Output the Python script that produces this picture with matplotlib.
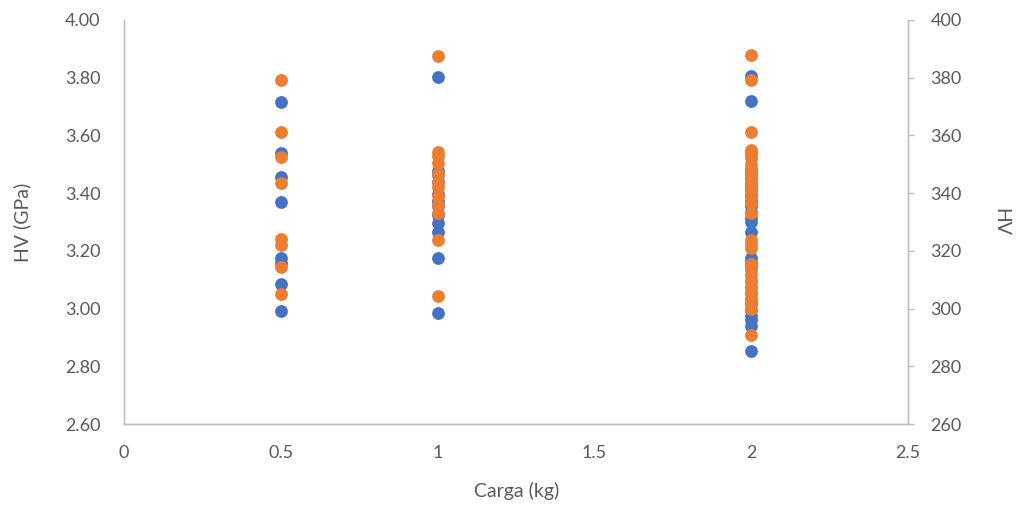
import numpy as np
import matplotlib.pyplot as plt

plt.rcParams['font.family'] = ['Lato', 'DejaVu Sans']

# loads (kg)
load_05 = 0.5
load_1 = 1.0
load_2 = 2.0

# hardness in GPa (left axis, blue)
gpa_05 = [3.717, 3.540, 3.457, 3.369, 3.177, 3.158, 3.084, 2.991]
gpa_1 = [3.801, 3.476, 3.462, 3.437, 3.398, 3.374, 3.354, 3.325, 3.295, 3.266, 3.175, 2.984]
gpa_2 = [3.804, 3.719, 3.543, 3.482, 3.467, 3.452, 3.432, 3.413, 3.393, 3.374, 3.354, 3.334,
         3.315, 3.300, 3.266, 3.175, 3.163, 3.148, 3.094, 3.074, 3.055, 3.035, 3.016, 2.996,
         2.976, 2.960, 2.940, 2.854]

# hardness in HV (right axis, orange)
hv_05 = [379.0, 361.0, 352.5, 343.5, 324.0, 322.0, 314.5, 305.0]
hv_1 = [387.6, 354.4, 353.0, 350.5, 346.5, 344.0, 342.0, 339.0, 336.0, 333.0, 323.7, 304.3]
hv_2 = [387.9, 379.2, 361.3, 355.0, 353.5, 352.0, 350.0, 348.0, 346.0, 344.0, 342.0, 340.0,
        338.0, 336.5, 333.0, 323.8, 322.5, 321.0, 315.5, 313.5, 311.5, 309.5, 307.5, 305.5,
        303.5, 301.8, 299.8, 291.0]

blue = '#4472C4'
orange = '#ED7D31'
grey = '#595959'
line = '#BFBFBF'

x_gpa = [load_05] * len(gpa_05) + [load_1] * len(gpa_1) + [load_2] * len(gpa_2)
y_gpa = gpa_05 + gpa_1 + gpa_2
x_hv = [load_05] * len(hv_05) + [load_1] * len(hv_1) + [load_2] * len(hv_2)
y_hv = hv_05 + hv_1 + hv_2

fig = plt.figure(figsize=(10.17, 5.08), dpi=100)
ax = fig.add_axes([0.122, 0.165, 0.771, 0.796])
ax2 = ax.twinx()

ax.scatter(x_gpa, y_gpa, s=85, color=blue, linewidths=0, zorder=3)
ax2.scatter(x_hv, y_hv, s=85, color=orange, linewidths=0, zorder=3)

ax.set_xlim(0, 2.5)
ax.set_ylim(2.6, 4.0)
ax2.set_ylim(260, 400)

ax.set_xticks(np.arange(0, 2.51, 0.5))
ax.set_xticklabels(['0', '0.5', '1', '1.5', '2', '2.5'])
ax.set_yticks(np.arange(2.6, 4.01, 0.2))
ax.set_yticklabels(['%.2f' % v for v in np.arange(2.6, 4.01, 0.2)])
ax2.set_yticks(np.arange(260, 401, 20))

for a in (ax, ax2):
    a.spines['top'].set_visible(False)
    for s in ('left', 'right', 'bottom'):
        a.spines[s].set_color(line)
        a.spines[s].set_linewidth(1.0)

ax.tick_params(axis='y', length=0, pad=17, labelsize=13, labelcolor=grey)
ax.tick_params(axis='x', length=0, pad=15, labelsize=13, labelcolor=grey)
ax2.tick_params(axis='y', length=4, width=1, color=line, pad=12, labelsize=13, labelcolor=grey)

ax.set_xlabel('Carga (kg)', fontsize=14, color=grey, labelpad=15)
ax.set_ylabel('HV (GPa)', fontsize=14, color=grey, labelpad=24)
ax2.set_ylabel('HV', fontsize=14, color=grey, rotation=270, labelpad=34)

fig.savefig('out.png', dpi=100)
